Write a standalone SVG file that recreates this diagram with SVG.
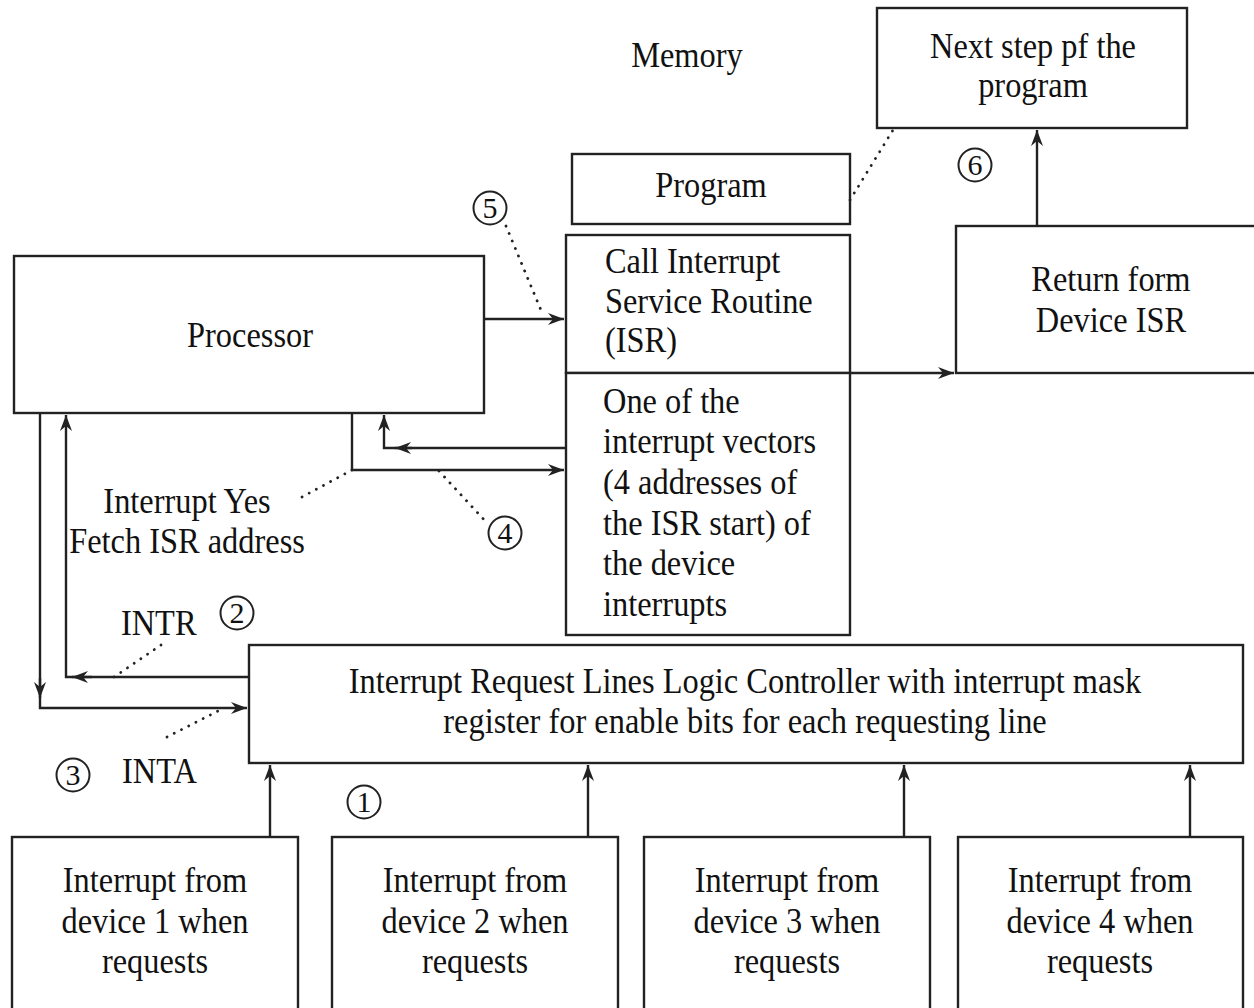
<svg xmlns="http://www.w3.org/2000/svg" width="1254" height="1008" viewBox="0 0 1254 1008">
<style>
  .box{fill:#fff;stroke:#222;stroke-width:2.4}
  .ln{fill:none;stroke:#222;stroke-width:2.4}
  .dot{fill:none;stroke:#222;stroke-width:2.8;stroke-dasharray:0.1 8;stroke-linecap:round}
  .t{font-family:"Liberation Serif","Times New Roman",serif;font-size:36px;fill:#111}
  .m{text-anchor:middle}
  .cn{fill:#fff;stroke:#222;stroke-width:2}
  .ct{font-family:"Liberation Serif","Times New Roman",serif;font-size:30px;fill:#111;text-anchor:middle}
</style>
<defs>
  <marker id="ah" markerUnits="userSpaceOnUse" markerWidth="18" markerHeight="14" refX="16" refY="6" orient="auto">
    <path d="M0,0 L16,6 L0,12 L5,6 z" fill="#222"/>
  </marker>
</defs>
<rect width="1254" height="1008" fill="#fff"/>

<g id="memory-label">
  <text class="t m" transform="scale(0.9,1)" x="763.3" y="67">Memory</text>
</g>
<g id="next-step">
  <rect class="box" x="877" y="8" width="310" height="120"/>
  <text class="t m" transform="scale(0.9,1)" x="1147.8" y="58">Next step pf the</text>
  <text class="t m" transform="scale(0.9,1)" x="1147.8" y="97">program</text>
</g>
<g id="program">
  <rect class="box" x="572" y="154" width="278" height="70"/>
  <text class="t m" transform="scale(0.9,1)" x="790" y="197">Program</text>
</g>
<g id="isr-call">
  <rect class="box" x="566" y="235" width="284" height="138"/>
  <text class="t" transform="scale(0.9,1)" x="672.2" y="273">Call Interrupt</text>
  <text class="t" transform="scale(0.9,1)" x="672.2" y="313">Service Routine</text>
  <text class="t" transform="scale(0.9,1)" x="672.2" y="352">(ISR)</text>
</g>
<g id="vectors">
  <rect class="box" x="566" y="373" width="284" height="262"/>
  <text class="t" transform="scale(0.9,1)" x="670" y="413">One of the</text>
  <text class="t" transform="scale(0.9,1)" x="670" y="453">interrupt vectors</text>
  <text class="t" transform="scale(0.9,1)" x="670" y="494">(4 addresses of</text>
  <text class="t" transform="scale(0.9,1)" x="670" y="535">the ISR start) of</text>
  <text class="t" transform="scale(0.9,1)" x="670" y="575">the device</text>
  <text class="t" transform="scale(0.9,1)" x="670" y="616">interrupts</text>
</g>
<g id="return-isr">
  <rect class="box" x="956" y="226" width="310" height="147"/>
  <text class="t m" transform="scale(0.9,1)" x="1234.4" y="291">Return form</text>
  <text class="t m" transform="scale(0.9,1)" x="1234.4" y="332">Device ISR</text>
</g>
<g id="processor">
  <rect class="box" x="14" y="256" width="470" height="157"/>
  <text class="t m" transform="scale(0.9,1)" x="277.8" y="347">Processor</text>
</g>
<g id="controller">
  <rect class="box" x="249" y="645" width="994" height="118"/>
  <text class="t m" transform="scale(0.9,1)" x="827.8" y="693">Interrupt Request Lines Logic Controller with interrupt mask</text>
  <text class="t m" transform="scale(0.9,1)" x="827.8" y="733">register for enable bits for each requesting line</text>
</g>
<g id="device1">
  <rect class="box" x="12" y="837" width="286" height="190"/>
  <text class="t m" transform="scale(0.9,1)" x="172.2" y="892">Interrupt from</text>
  <text class="t m" transform="scale(0.9,1)" x="172.2" y="933">device 1 when</text>
  <text class="t m" transform="scale(0.9,1)" x="172.2" y="973">requests</text>
</g>
<g id="device2">
  <rect class="box" x="332" y="837" width="286" height="190"/>
  <text class="t m" transform="scale(0.9,1)" x="527.8" y="892">Interrupt from</text>
  <text class="t m" transform="scale(0.9,1)" x="527.8" y="933">device 2 when</text>
  <text class="t m" transform="scale(0.9,1)" x="527.8" y="973">requests</text>
</g>
<g id="device3">
  <rect class="box" x="644" y="837" width="286" height="190"/>
  <text class="t m" transform="scale(0.9,1)" x="874.4" y="892">Interrupt from</text>
  <text class="t m" transform="scale(0.9,1)" x="874.4" y="933">device 3 when</text>
  <text class="t m" transform="scale(0.9,1)" x="874.4" y="973">requests</text>
</g>
<g id="device4">
  <rect class="box" x="958" y="837" width="285" height="190"/>
  <text class="t m" transform="scale(0.9,1)" x="1222.2" y="892">Interrupt from</text>
  <text class="t m" transform="scale(0.9,1)" x="1222.2" y="933">device 4 when</text>
  <text class="t m" transform="scale(0.9,1)" x="1222.2" y="973">requests</text>
</g>

<g id="connectors">
  <path class="ln" d="M484,319 H564" marker-end="url(#ah)"/>
  <path class="ln" d="M850,373 H954" marker-end="url(#ah)"/>
  <path class="ln" d="M1037,226 V130" marker-end="url(#ah)"/>
  <path class="ln" d="M566,448 H384 V415" marker-end="url(#ah)"/>
  <path class="ln" d="M412,448 H395" marker-end="url(#ah)"/>
  <path class="ln" d="M352,413 V470 H564" marker-end="url(#ah)"/>
  <path class="ln" d="M249,677 H66 V415" marker-end="url(#ah)"/>
  <path class="ln" d="M92,677 H72" marker-end="url(#ah)"/>
  <path class="ln" d="M40,413 V708 H247" marker-end="url(#ah)"/>
  <path class="ln" d="M40,678 V698" marker-end="url(#ah)"/>
  <path class="ln" d="M270,837 V765" marker-end="url(#ah)"/>
  <path class="ln" d="M588,837 V765" marker-end="url(#ah)"/>
  <path class="ln" d="M904,837 V765" marker-end="url(#ah)"/>
  <path class="ln" d="M1190,837 V765" marker-end="url(#ah)"/>
  <path class="dot" d="M850,200 L893,130"/>
  <path class="dot" d="M506,226 L543,315"/>
  <path class="dot" d="M352,470 L302,497"/>
  <path class="dot" d="M439,471 L488,524"/>
  <path class="dot" d="M161,645 L114,677"/>
  <path class="dot" d="M167,737 L222,709"/>
</g>

<g id="step-markers">
  <circle class="cn" cx="364" cy="802" r="16.5"/><text class="ct" x="364" y="812">1</text>
  <circle class="cn" cx="237" cy="613" r="16.5"/><text class="ct" x="237" y="623">2</text>
  <circle class="cn" cx="73" cy="775" r="16.5"/><text class="ct" x="73" y="785">3</text>
  <circle class="cn" cx="505" cy="533" r="16.5"/><text class="ct" x="505" y="543">4</text>
  <circle class="cn" cx="490" cy="208" r="16.5"/><text class="ct" x="490" y="218">5</text>
  <circle class="cn" cx="975" cy="165" r="16.5"/><text class="ct" x="975" y="175">6</text>
</g>
<g id="labels">
  <text class="t m" transform="scale(0.9,1)" x="207.8" y="513">Interrupt Yes</text>
  <text class="t m" transform="scale(0.9,1)" x="207.8" y="553">Fetch ISR address</text>
  <text class="t" transform="scale(0.9,1)" x="134.4" y="635">INTR</text>
  <text class="t" transform="scale(0.9,1)" x="135.6" y="783">INTA</text>
</g>
</svg>
